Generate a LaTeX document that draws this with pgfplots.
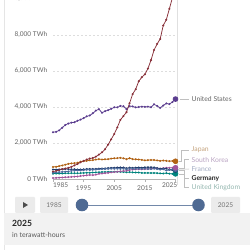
\documentclass[border=0pt]{standalone}
\usepackage{pgfplots}
\usepackage{pgfplotstable}
\pgfplotsset{compat=1.18}
\usepackage{fontspec}
\setmainfont{Lato}
\definecolor{cChina}{HTML}{883039}
\definecolor{cUS}{HTML}{5B3D8F}
\definecolor{cJapan}{HTML}{B16214}
\definecolor{cKorea}{HTML}{A2559C}
\definecolor{cFrance}{HTML}{4C6A9C}
\definecolor{cGermany}{HTML}{1F3A6B}
\definecolor{cUK}{HTML}{00847E}
\definecolor{tJapan}{HTML}{C4A27C}
\definecolor{tKorea}{HTML}{B9A3C2}
\definecolor{tFrance}{HTML}{A1ABC2}
\definecolor{tUK}{HTML}{95B7B0}
\definecolor{tick}{HTML}{666666}
\definecolor{gridc}{HTML}{DDDDDD}
\definecolor{handle}{HTML}{4F6A93}
\pgfplotstableread{
year China US Japan Korea France Germany UK
1985 411 2600 672 58 344 522 298
1986 450 2620 676 64 362 523 301
1987 497 2700 719 73 382 531 301
1988 545 2850 753 85 392 543 308
1989 585 3000 798 94 407 551 314
1990 621 3080 842 107 420 550 320
1991 678 3130 865 119 455 540 323
1992 754 3150 880 131 463 538 321
1993 836 3240 896 144 472 526 323
1994 928 3300 964 165 476 528 325
1995 1007 3380 990 185 494 537 334
1996 1081 3480 1009 205 513 553 347
1997 1135 3530 1036 225 505 552 345
1998 1167 3650 1048 215 511 557 362
1999 1239 3800 1083 239 525 556 368
2000 1356 3880 1104 289 540 577 377
2001 1481 3680 1082 301 550 586 385
2002 1654 3770 1094 325 559 587 387
2003 1911 3820 1099 344 567 609 398
2004 2203 3900 1134 370 574 617 394
2005 2500 3980 1150 388 576 623 398
2006 2866 3980 1160 403 574 637 397
2007 3282 4060 1180 427 569 641 396
2008 3496 4040 1149 443 574 640 389
2009 3715 3880 1101 452 536 596 376
2010 4207 4050 1156 497 569 633 382
2011 4713 4030 1104 523 562 613 368
2012 4988 3980 1094 535 564 630 364
2013 5432 4000 1083 538 573 639 358
2014 5650 4020 1062 540 561 627 338
2015 5815 4010 1036 547 571 648 339
2016 6133 4020 1047 561 556 650 339
2017 6604 3990 1056 575 549 654 338
2018 7166 4150 1055 590 574 643 333
2019 7503 4060 1031 585 555 609 325
2020 7779 3950 1005 575 524 574 313
2021 8531 4080 1023 598 547 588 307
2022 8849 4200 1010 620 469 577 325
2023 9456 4160 990 618 511 514 293
2024 10072 4280 1000 622 540 495 285
2025 10600 4440 985 625 545 500 285
}\datatable
\begin{document}
\begin{tikzpicture}[x=1bp,y=1bp]
\useasboundingbox (0,0) rectangle (250,250);
\clip (0,0) rectangle (250,250);
\fill[white] (0,0) rectangle (250,250);
\draw[black!10, line width=0.6bp] (4.5,0) -- (4.5,250);
\draw[black!12, line width=0.6bp] (177,250) -- (177,65);
\begin{axis}[
  at={(53bp,71bp)}, anchor=south west, scale only axis,
  width=122.5bp, height=180bp,
  xmin=1985, xmax=2025, ymin=0, ymax=10000, clip=false,
  scaled y ticks=false, scaled x ticks=false,
  axis x line*=bottom, axis y line*=left,
  x axis line style={color=black!30, line width=0.5bp},
  y axis line style={draw=none},
  ytick={0,2000,4000,6000,8000,10000},
  yticklabels={0 TWh,{2,000 TWh},{4,000 TWh},{6,000 TWh},{8,000 TWh},{10,000 TWh}},
  ymajorgrids, grid style={color=gridc, dash pattern=on 2bp off 2bp, line width=0.5bp},
  ytick style={draw=none},
  yticklabel style={font=\fontsize{6.6}{7}\selectfont, color=tick, anchor=east, inner sep=0pt, xshift=-2.5bp},
  xtick={1985,1995,2005,2015,2025},
  xticklabels={,1995,2005,2015,},
  extra x ticks={1987.5,2023.1},
  extra x tick labels={1985,2025},
  extra x tick style={major tick length=0pt},
  xtick style={color=black!30, line width=0.5bp},
  tick align=outside, major tick length=3bp,
  xticklabel style={font=\fontsize{6.6}{7}\selectfont, color=tick, inner sep=0pt, yshift=-3.5bp},
  every axis plot/.append style={line width=0.75bp, mark=*, mark size=0.6bp},
]
\addplot[color=cUK, mark options={fill=cUK}] table[x=year,y=UK] {\datatable};
\addplot[color=cKorea, mark options={fill=cKorea}] table[x=year,y=Korea] {\datatable};
\addplot[color=cGermany, mark options={fill=cGermany}] table[x=year,y=Germany] {\datatable};
\addplot[color=cFrance, mark options={fill=cFrance}] table[x=year,y=France] {\datatable};
\addplot[color=cJapan, mark options={fill=cJapan}] table[x=year,y=Japan] {\datatable};
\addplot[color=cUS, mark options={fill=cUS}] table[x=year,y=US] {\datatable};
\addplot[color=cChina, mark options={fill=cChina}] table[x=year,y=China] {\datatable};
\addplot[only marks, mark=*, mark size=2.4bp, color=cUK] coordinates {(2025,285)};
\addplot[only marks, mark=*, mark size=2.4bp, color=cGermany] coordinates {(2025,500)};
\addplot[only marks, mark=*, mark size=2.4bp, color=cFrance] coordinates {(2025,545)};
\addplot[only marks, mark=*, mark size=2.4bp, color=cKorea] coordinates {(2025,625)};
\addplot[only marks, mark=*, mark size=2.4bp, color=cJapan] coordinates {(2025,985)};
\addplot[only marks, mark=*, mark size=2.4bp, color=cUS] coordinates {(2025,4440)};
\end{axis}
% legend connectors
\begin{scope}[black!25, line width=0.5bp]
\draw (180,250-99) -- (189,250-99);
\draw (179,250-161.3) -- (181.5,250-161.3) -- (181.5,250-150) -- (189,250-150);
\draw (179,250-168) -- (184.5,250-168) -- (184.5,250-159.7) -- (189,250-159.7);
\draw (179,250-169.2) -- (189,250-169);
\draw (179,250-170) -- (184.5,250-170) -- (184.5,250-178.5) -- (189,250-178.5);
\draw (179,250-173.9) -- (184.5,250-173.9) -- (184.5,250-187.5) -- (189,250-187.5);
\end{scope}
\begin{scope}[every node/.style={anchor=west, inner sep=0pt, font=\fontsize{6.8}{7}\selectfont}]
\node[text=black!60] at (191.5,250-98.8) {United States};
\node[text=tJapan] at (191.5,250-150) {Japan};
\node[text=tKorea] at (191.5,250-159.7) {South Korea};
\node[text=tFrance] at (191.5,250-169) {France};
\node[text=black!85, font=\fontsize{6.8}{7}\selectfont\bfseries] at (191.5,250-178.5) {Germany};
\node[text=tUK] at (191.5,250-187.5) {United Kingdom};
\end{scope}
% timeline
\fill[black!8, rounded corners=1bp] (15,37) rectangle (35,53);
\fill[black!70] (23,48) -- (28,45) -- (23,42) -- cycle;
\fill[black!8, rounded corners=1bp] (40,37) rectangle (68,53);
\node[text=black!55, font=\fontsize{6.6}{7}\selectfont] at (54,45) {1985};
\fill[black!8, rounded corners=1bp] (211,37) rectangle (240,53);
\node[text=black!55, font=\fontsize{6.6}{7}\selectfont] at (225.5,45) {2025};
\draw[handle!80, line width=0.8bp] (82,45) -- (198.5,45);
\fill[handle] (82,45) circle (6.3);
\fill[handle] (198.5,45) circle (6.3);
% bottom panel
\fill[black!5] (4.5,5) rectangle (250,37);
\node[anchor=base west, inner sep=0pt, font=\fontsize{8.6}{9}\selectfont\bfseries, text=black!85] at (12,23.5) {2025};
\node[anchor=base west, inner sep=0pt, font=\fontsize{7}{8}\selectfont, text=black!65] at (12,13) {in terawatt-hours};
\end{tikzpicture}
\end{document}
